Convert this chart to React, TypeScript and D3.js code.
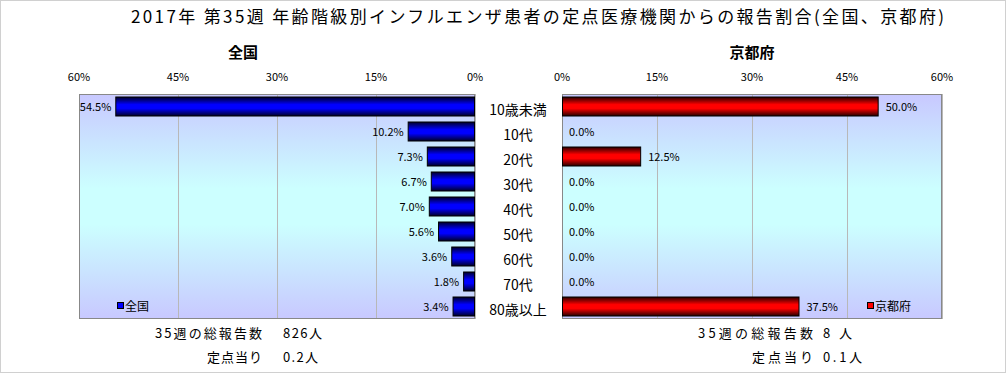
import { useEffect, useRef } from 'react';
import * as d3 from 'd3';

// Age classes and report ratios (%)
const categories = ['10歳未満', '10代', '20代', '30代', '40代', '50代', '60代', '70代', '80歳以上'];
const nationalValues = [54.5, 10.2, 7.3, 6.7, 7.0, 5.6, 3.6, 1.8, 3.4];
const kyotoValues = [50.0, 0.0, 12.5, 0.0, 0.0, 0.0, 0.0, 0.0, 37.5];
const tickValues = [0, 15, 30, 45, 60];

const TITLE = '2017年 第35週 年齢階級別インフルエンザ患者の定点医療機関からの報告割合(全国、京都府)';
const leftTotals = ['35週の総報告数', '826人', '定点当り', '0.2人'];
const rightTotals = ['35週の総報告数', '8人', '定点当り', '0.1人'];

const W = 1006;
const H = 373;
const FONT = '"Noto Sans CJK JP", "Noto Sans", sans-serif';

export default function App() {
  const svgRef = useRef<SVGSVGElement>(null);

  useEffect(() => {
    if (!svgRef.current) return;
    const svg = d3.select(svgRef.current);
    svg.selectAll('*').remove();

    const defs = svg.append('defs');

    // plot background: lavender -> cyan -> lavender
    const bg = defs.append('linearGradient').attr('id', 'bg').attr('x1', 0).attr('y1', 0).attr('x2', 0).attr('y2', 1);
    bg.append('stop').attr('offset', '0%').attr('stop-color', '#c8c8ff');
    bg.append('stop').attr('offset', '42%').attr('stop-color', '#ccffff');
    bg.append('stop').attr('offset', '58%').attr('stop-color', '#ccffff');
    bg.append('stop').attr('offset', '100%').attr('stop-color', '#c8c8ff');

    const barGrad = (id: string, dark: string, bright: string) => {
      const gr = defs.append('linearGradient').attr('id', id).attr('x1', 0).attr('y1', 0).attr('x2', 0).attr('y2', 1);
      gr.append('stop').attr('offset', '0%').attr('stop-color', dark);
      gr.append('stop').attr('offset', '40%').attr('stop-color', bright);
      gr.append('stop').attr('offset', '60%').attr('stop-color', bright);
      gr.append('stop').attr('offset', '100%').attr('stop-color', dark);
    };
    barGrad('blueBar', '#000028', '#0000ff');
    barGrad('redBar', '#280000', '#ff0000');

    svg.append('rect').attr('x', 0.5).attr('y', 0.5).attr('width', W - 1).attr('height', H - 1)
      .attr('fill', '#fff').attr('stroke', '#d0d0d0');

    // Title
    svg.append('text')
      .attr('x', 131).attr('y', 23)
      .attr('textLength', 813)
      .attr('font-size', 17).attr('font-family', FONT).attr('fill', '#000')
      .text(TITLE);

    const top = 94;
    const bottom = 319;
    const y = d3.scaleBand<string>().domain(categories).range([top, bottom]).paddingInner(0.2).paddingOuter(0.1);

    const xLeft = d3.scaleLinear().domain([0, 60]).range([475, 79]);
    const xRight = d3.scaleLinear().domain([0, 60]).range([562, 942]);

    const panel = (
      x: d3.ScaleLinear<number, number>,
      values: number[],
      fillId: string,
      title: string,
      legendColor: string,
      legendX: number,
      side: 'left' | 'right'
    ) => {
      const [r0, r1] = x.range();
      const x0 = Math.min(r0, r1);
      const x1 = Math.max(r0, r1);
      const g = svg.append('g');

      g.append('rect').attr('x', x0).attr('y', top).attr('width', x1 - x0).attr('height', bottom - top)
        .attr('fill', 'url(#bg)');

      // gridlines
      g.selectAll('line.grid')
        .data(tickValues)
        .join('line')
        .attr('class', 'grid')
        .attr('x1', (d) => Math.round(x(d)) + 0.5)
        .attr('x2', (d) => Math.round(x(d)) + 0.5)
        .attr('y1', top)
        .attr('y2', bottom)
        .attr('stroke', '#b8b8b8');

      g.append('rect').attr('x', x0 + 0.5).attr('y', top + 0.5).attr('width', x1 - x0 - 1).attr('height', bottom - top - 1)
        .attr('fill', 'none').attr('stroke', '#888');

      // tick labels
      g.selectAll('text.tick')
        .data(tickValues)
        .join('text')
        .attr('class', 'tick')
        .attr('x', (d) => x(d))
        .attr('y', 81)
        .attr('text-anchor', 'middle')
        .attr('font-size', 11).attr('font-family', FONT)
        .text((d) => `${d}%`);

      // panel title
      g.append('text')
        .attr('x', (x0 + x1) / 2 + (side === 'left' ? -34 : 0))
        .attr('y', 58)
        .attr('text-anchor', 'middle')
        .attr('font-size', 15).attr('font-weight', 'bold').attr('font-family', FONT)
        .text(title);

      // bars
      g.selectAll('rect.bar')
        .data(values.map((v, i) => ({ v, c: categories[i] })).filter((d) => d.v > 0))
        .join('rect')
        .attr('class', 'bar')
        .attr('x', (d) => Math.min(x(0), x(d.v)) + 0.5)
        .attr('y', (d) => (y(d.c) || 0) + 0.5)
        .attr('width', (d) => Math.abs(x(d.v) - x(0)) - 1)
        .attr('height', y.bandwidth() - 1)
        .attr('fill', `url(#${fillId})`)
        .attr('stroke', '#000');

      // value labels
      g.selectAll('text.val')
        .data(values.map((v, i) => ({ v, c: categories[i] })))
        .join('text')
        .attr('class', 'val')
        .attr('x', (d) => (side === 'left' ? x(d.v) - 4 : x(d.v) + 7))
        .attr('y', (d) => (y(d.c) || 0) + y.bandwidth() / 2 + 4)
        .attr('text-anchor', side === 'left' ? 'end' : 'start')
        .attr('font-size', 11).attr('font-family', FONT)
        .text((d) => `${d.v.toFixed(1)}%`);

      // legend
      const ly = 306;
      g.append('rect').attr('x', legendX + 0.5).attr('y', ly - 3.5).attr('width', 6).attr('height', 6)
        .attr('fill', legendColor).attr('stroke', '#000');
      g.append('text').attr('x', legendX + 8).attr('y', ly + 5)
        .attr('font-size', 12).attr('font-family', FONT).text(title);
    };

    panel(xLeft, nationalValues, 'blueBar', '全国', '#0000ff', 117, 'left');
    panel(xRight, kyotoValues, 'redBar', '京都府', '#ff0000', 867, 'right');

    // category labels
    svg.selectAll('text.cat')
      .data(categories)
      .join('text')
      .attr('class', 'cat')
      .attr('x', 518)
      .attr('y', (d) => (y(d) || 0) + y.bandwidth() / 2 + 8)
      .attr('text-anchor', 'middle')
      .attr('font-size', 14).attr('font-family', FONT)
      .text((d) => d);

    // totals below each panel: [labelLeft, labelWidth, valueLeft, valueWidth] per row
    const totals = (lines: string[], boxes: number[][]) => {
      boxes.forEach((b, row) => {
        const ty = 338 + row * 24;
        svg.append('text').attr('x', b[0]).attr('y', ty).attr('textLength', b[1])
          .attr('font-size', 13).attr('font-family', FONT).text(lines[row * 2]);
        svg.append('text').attr('x', b[2]).attr('y', ty).attr('textLength', b[3])
          .attr('font-size', 13).attr('font-family', FONT).text(lines[row * 2 + 1]);
      });
    };
    totals(leftTotals, [[155, 107, 283, 39], [207, 55, 283, 35]]);
    totals(rightTotals, [[698, 115, 823, 29], [752, 61, 823, 39]]);
  }, []);

  return (
    <svg
      ref={svgRef}
      width={W}
      height={H}
      style={{ position: 'absolute', left: 0, top: 0, background: '#fff' }}
    />
  );
}
